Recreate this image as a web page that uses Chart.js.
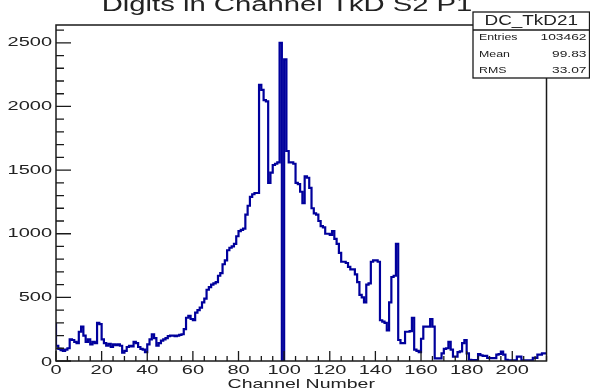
<!DOCTYPE html>
<html>
<head>
<meta charset="utf-8">
<script src="https://cdn.jsdelivr.net/npm/chart.js@4.4.1/dist/chart.umd.min.js"></script>
<style>
  html, body { margin: 0; padding: 0; background: #fff; }
  #wrap { width: 590px; height: 391px; }
</style>
</head>
<body>
<div id="wrap"><canvas id="histo"></canvas></div>
<script>
const histTitle = 'Digits in Channel TkD S2 P1';
const histName = 'DC_TkD21';
const statLabels = ['Entries', 'Mean', 'RMS'];
const statValues = ['103462', '99.83', '33.07'];
const xTitle = 'Channel Number';

const xMin = 0, xMax = 215;
const yMin = 0, yMax = 2640;
const xMajorTicks = [0, 20, 40, 60, 80, 100, 120, 140, 160, 180, 200];
const yMajorTicks = [0, 500, 1000, 1500, 2000, 2500];
const xMinorStep = 5, yMinorStep = 100;

// one entry per channel, starting at channel 0
const counts = [
  300, 120, 95, 85, 80, 90, 100, 170, 165, 150,
  140, 230, 270, 200, 150, 170, 130, 150, 140, 300,
  290, 170, 140, 120, 135, 110, 130, 125, 130, 120,
  65, 80, 110, 120, 115, 150, 140, 110, 95, 90,
  70, 130, 170, 210, 180, 120, 140, 160, 170, 180,
  195, 200, 200, 195, 200, 205, 210, 250, 340, 355,
  330, 320, 380, 400, 420, 460, 490, 560, 580, 600,
  610, 620, 670, 690, 760, 790, 870, 890, 900, 920,
  980, 1020, 1030, 1040, 1150, 1220, 1290, 1310, 1320, 1320,
  2170, 2130, 2050, 2040, 1400, 1480, 1540, 1550, 1560, 2500,
  0, 2370, 1650, 1560, 1560, 1550, 1400, 1390, 1330, 1240,
  1450, 1440, 1360, 1200, 1160, 1150, 1100, 1060, 1050, 1000,
  1000, 990, 1020, 960, 920, 850, 780, 780, 770, 740,
  720, 720, 680, 620, 520, 500, 460, 600, 610, 780,
  790, 790, 780, 320, 310, 300, 240, 460, 660, 670,
  920, 165, 140, 140, 230, 230, 235, 340, 90, 80,
  70, 175, 270, 270, 270, 330, 270, 20, 20, 20,
  60, 95, 100, 150, 90, 35, 35, 70, 75, 140,
  165, 60, 10, 8, 8, 8, 55, 45, 40, 40,
  25, 23, 23, 23, 50, 55, 73, 50, 10, 5,
  5, 5, 5, 35, 35, 5, 5, 5, 5, 5,
  25, 25, 50, 50, 60
];

// step outline: each point opens a bin, the last one closes it
const points = counts.map((v, i) => ({ x: xMin + i, y: v }));
points.push({ x: xMin + counts.length, y: counts[counts.length - 1] });

const FONT = '"Liberation Sans", Arial, Helvetica, sans-serif';

// text in this style is drawn wide, so squeeze it through a horizontal scale
function wideText(ctx, txt, x, y, size, sx, align, base) {
  ctx.save();
  ctx.translate(x, y);
  ctx.scale(sx, 1);
  ctx.font = size + 'px ' + FONT;
  ctx.textAlign = align;
  ctx.textBaseline = base;
  ctx.fillText(txt, 0, 0);
  ctx.restore();
}

const rootFrame = {
  id: 'rootFrame',
  afterDraw(chart) {
    const ctx = chart.ctx;
    const a = chart.chartArea;
    const xs = chart.scales.x, ys = chart.scales.y;

    ctx.save();
    ctx.strokeStyle = '#1a1a1a';
    ctx.lineWidth = 1.5;
    ctx.strokeRect(a.left, a.top, a.right - a.left, a.bottom - a.top);

    // ticks point into the frame
    ctx.lineWidth = 1.3;
    ctx.beginPath();
    for (let v = xMin; v <= xMax; v += xMinorStep) {
      const px = xs.getPixelForValue(v);
      const len = xMajorTicks.includes(v) ? 10 : 5;
      ctx.moveTo(px, a.bottom);
      ctx.lineTo(px, a.bottom - len);
    }
    for (let v = yMin; v <= yMax; v += yMinorStep) {
      const py = ys.getPixelForValue(v);
      const len = yMajorTicks.includes(v) ? 15 : 8;
      ctx.moveTo(a.left, py);
      ctx.lineTo(a.left + len, py);
    }
    ctx.stroke();

    ctx.fillStyle = '#222';
    xMajorTicks.forEach(v => {
      wideText(ctx, String(v), xs.getPixelForValue(v), a.bottom + 10, 12.5, 1.6, 'center', 'middle');
    });
    yMajorTicks.forEach(v => {
      const py = ys.getPixelForValue(v);
      wideText(ctx, String(v), a.left - 4, v === 0 ? py + 2 : py, 12.5, 1.6, 'right', 'middle');
    });

    wideText(ctx, xTitle, (a.left + a.right) / 2, 388, 12.2, 1.6, 'center', 'alphabetic');
    wideText(ctx, histTitle, 287, 11, 19.5, 1.5, 'center', 'alphabetic');

    // statistics box
    const bx = 473, by = 12, bw = 116.5, bh = 66;
    ctx.fillStyle = '#fff';
    ctx.fillRect(bx, by, bw, bh);
    ctx.strokeStyle = '#1a1a1a';
    ctx.lineWidth = 1.3;
    ctx.strokeRect(bx, by, bw, bh);
    ctx.beginPath();
    ctx.moveTo(bx, by + 18);
    ctx.lineTo(bx + bw, by + 18);
    ctx.stroke();

    ctx.fillStyle = '#222';
    wideText(ctx, histName, bx + bw / 2, by + 13, 14, 1.35, 'center', 'alphabetic');
    statLabels.forEach((lab, i) => {
      const base = by + 28 + i * 16.5;
      wideText(ctx, lab, bx + 6, base, 9.5, 1.3, 'left', 'alphabetic');
      wideText(ctx, statValues[i], bx + bw - 3, base, 9.5, 1.45, 'right', 'alphabetic');
    });
    ctx.restore();
  }
};

new Chart(document.getElementById('histo'), {
  type: 'line',
  data: {
    datasets: [{
      data: points,
      stepped: 'after',
      borderColor: '#00009c',
      borderWidth: 2.2,
      pointRadius: 0,
      fill: false
    }]
  },
  options: {
    responsive: true,
    maintainAspectRatio: false,
    animation: false,
    layout: { padding: { left: 56, right: 43.5, top: 25, bottom: 30 } },
    plugins: {
      legend: { display: false },
      tooltip: { enabled: false }
    },
    scales: {
      x: { type: 'linear', min: xMin, max: xMax, display: false },
      y: { min: yMin, max: yMax, display: false }
    }
  },
  plugins: [rootFrame]
});
</script>
</body>
</html>
